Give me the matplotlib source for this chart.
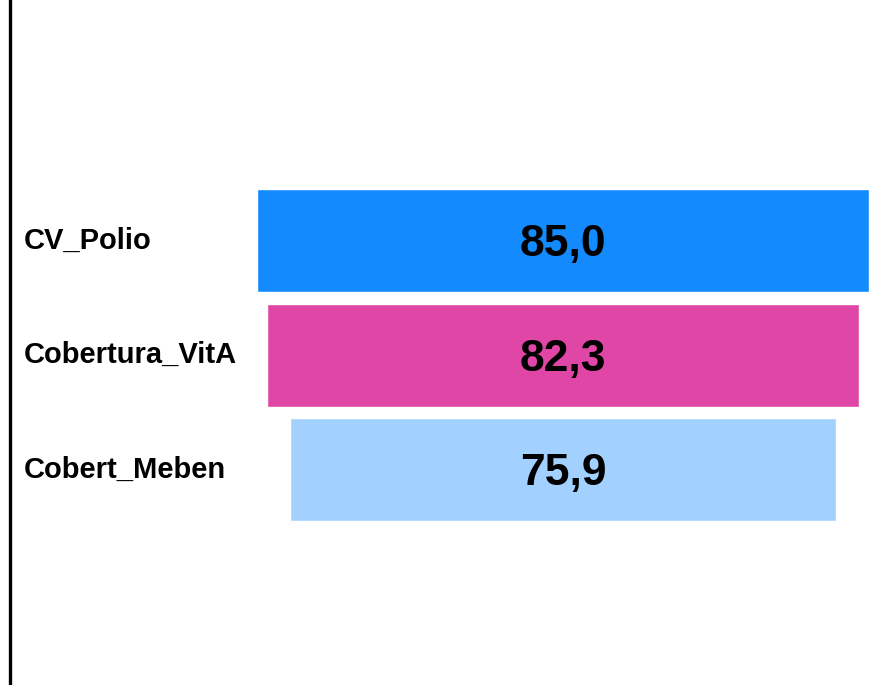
import matplotlib
matplotlib.use('Agg')
import matplotlib.pyplot as plt
from matplotlib.lines import Line2D

# funnel stages, top to bottom
labels = ['CV_Polio', 'Cobertura_VitA', 'Cobert_Meben']
values = [85.0, 82.3, 75.9]
colors = ['#138BFF', '#E046A6', '#A3D1FF']

plt.rcParams['font.family'] = ['Liberation Sans', 'DejaVu Sans']

fig = plt.figure(figsize=(8.69, 6.85), dpi=100)
ax = fig.add_axes([0, 0, 1, 1])

ypos = list(range(len(values)))
lefts = [-v / 2 for v in values]
ax.barh(ypos, values, left=lefts, height=0.9, color=colors,
        edgecolor='white', linewidth=1)

for y, v in zip(ypos, values):
    ax.text(0, y + 0.035, ('%.1f' % v).replace('.', ','), ha='center', va='center',
            fontsize=32, fontweight='bold', color='black')

# stage names sit at the left of the figure
for y, lab in zip(ypos, labels):
    ax.text(24 / 869, y, lab, transform=ax.get_yaxis_transform(),
            ha='left', va='center', fontsize=21, fontweight='bold')

ax.set_xlim(-78.2, 42.5)
ax.set_ylim(3.88, -2.1)
ax.axis('off')

fig.add_artist(Line2D([9.5 / 869, 9.5 / 869], [0, 1], transform=fig.transFigure,
                      color='black', linewidth=2.4))

fig.savefig('out.png', dpi=100)
